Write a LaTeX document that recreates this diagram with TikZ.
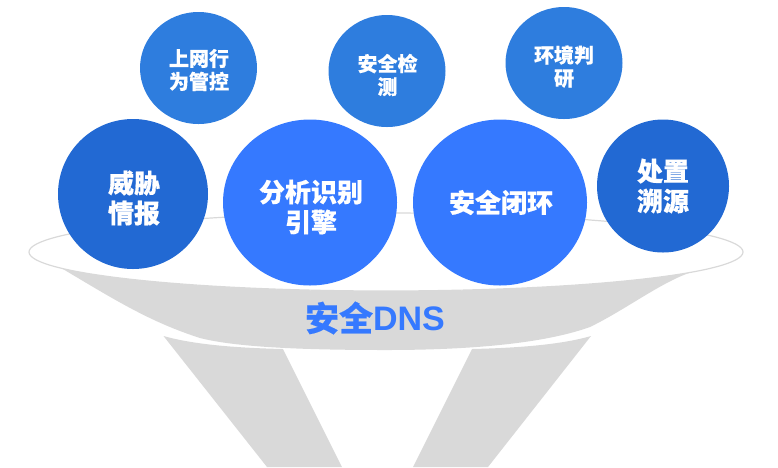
\documentclass[tikz,border=0pt]{standalone}
\usepackage{fontspec}
\setmainfont{Liberation Sans}
\newfontfamily\cjk{Noto Sans CJK SC}[BoldFeatures={FakeBold=0.4}]
\usetikzlibrary{shapes.geometric}
\definecolor{funnelgray}{HTML}{D9D9D9}
\definecolor{topblue}{HTML}{2E7DDE}
\definecolor{sideblue}{HTML}{2269D3}
\definecolor{midblue}{HTML}{3579FF}

\begin{document}
\begin{tikzpicture}[x=1pt, y=-1pt,
    bubble/.style={ellipse, inner sep=0pt},
    topbub/.style={bubble, fill=topblue, minimum width=117pt, minimum height=112pt},
    sidebub/.style={bubble, fill=sideblue},
    midbub/.style={bubble, fill=midblue, minimum width=174pt, minimum height=166pt},
    smalltxt/.style={align=center, text=white, inner sep=0pt, font=\cjk\bfseries\fontsize{20}{23}\selectfont},
    bigtxt/.style={align=center, text=white, inner sep=0pt, font=\cjk\bfseries\fontsize{26}{30}\selectfont},
    ]
    \useasboundingbox (0,0) rectangle (778,467);

    % Funnel rim
    \node[ellipse, draw=funnelgray, line width=1.2pt, minimum width=714pt, minimum height=78pt, inner sep=0pt] (rim) at (386,252) {};

    % Funnel body
    \fill[funnelgray] (62,268.5) arc[start angle=155.2, end angle=31.6, x radius=357, y radius=39]
      .. controls (660,283) and (625,310) .. (590,327)
      .. controls (540,345) and (460,350) .. (386,350)
      .. controls (300,350) and (235,347) .. (200,338)
      .. controls (150,322) and (115,300) .. (62,268.5) -- cycle;

    % Funnel spout
    \fill[funnelgray] (163.5,336) .. controls (195,345) and (240,348) .. (283,349) -- (342,467) -- (267,467) -- cycle;
    \fill[funnelgray] (591,336) .. controls (560,345) and (515,348) .. (472,349) -- (413,467) -- (488,467) -- cycle;

    % Top bubbles
    \node[topbub] (behavior) at (198.5,68) {};
    \node[smalltxt] at ([xshift=0.5pt,yshift=-2pt]behavior.center) {上网行\\为管控};
    \node[topbub] (detect) at (387,71) {};
    \node[smalltxt] at ([xshift=0.5pt,yshift=-4pt]detect.center) {安全检\\测};
    \node[topbub] (research) at (564,63) {};
    \node[smalltxt] at ([yshift=-3.5pt]research.center) {环境判\\研};

    % Lower bubbles
    \node[sidebub, minimum width=150pt, minimum height=150pt] (threat) at (133,194) {};
    \node[bigtxt] at ([xshift=1pt,yshift=-4pt]threat.center) {威胁\\情报};
    \node[midbub] (engine) at (310,202.5) {};
    \node[bigtxt] at ([xshift=1pt,yshift=-4.5pt]engine.center) {分析识别\\引擎};
    \node[midbub] (loop) at (500,202.5) {};
    \node[bigtxt] at ([xshift=1pt]loop.center) {安全闭环};
    \node[sidebub, minimum width=132pt, minimum height=133pt] (trace) at (663,186) {};
    \node[bigtxt] at (trace.center) {处置\\溯源};

    % Funnel label
    \node[text=midblue, font=\bfseries\fontsize{34}{36}\selectfont] (dns) at (375,318) {{\cjk 安全}DNS};
\end{tikzpicture}
\end{document}
